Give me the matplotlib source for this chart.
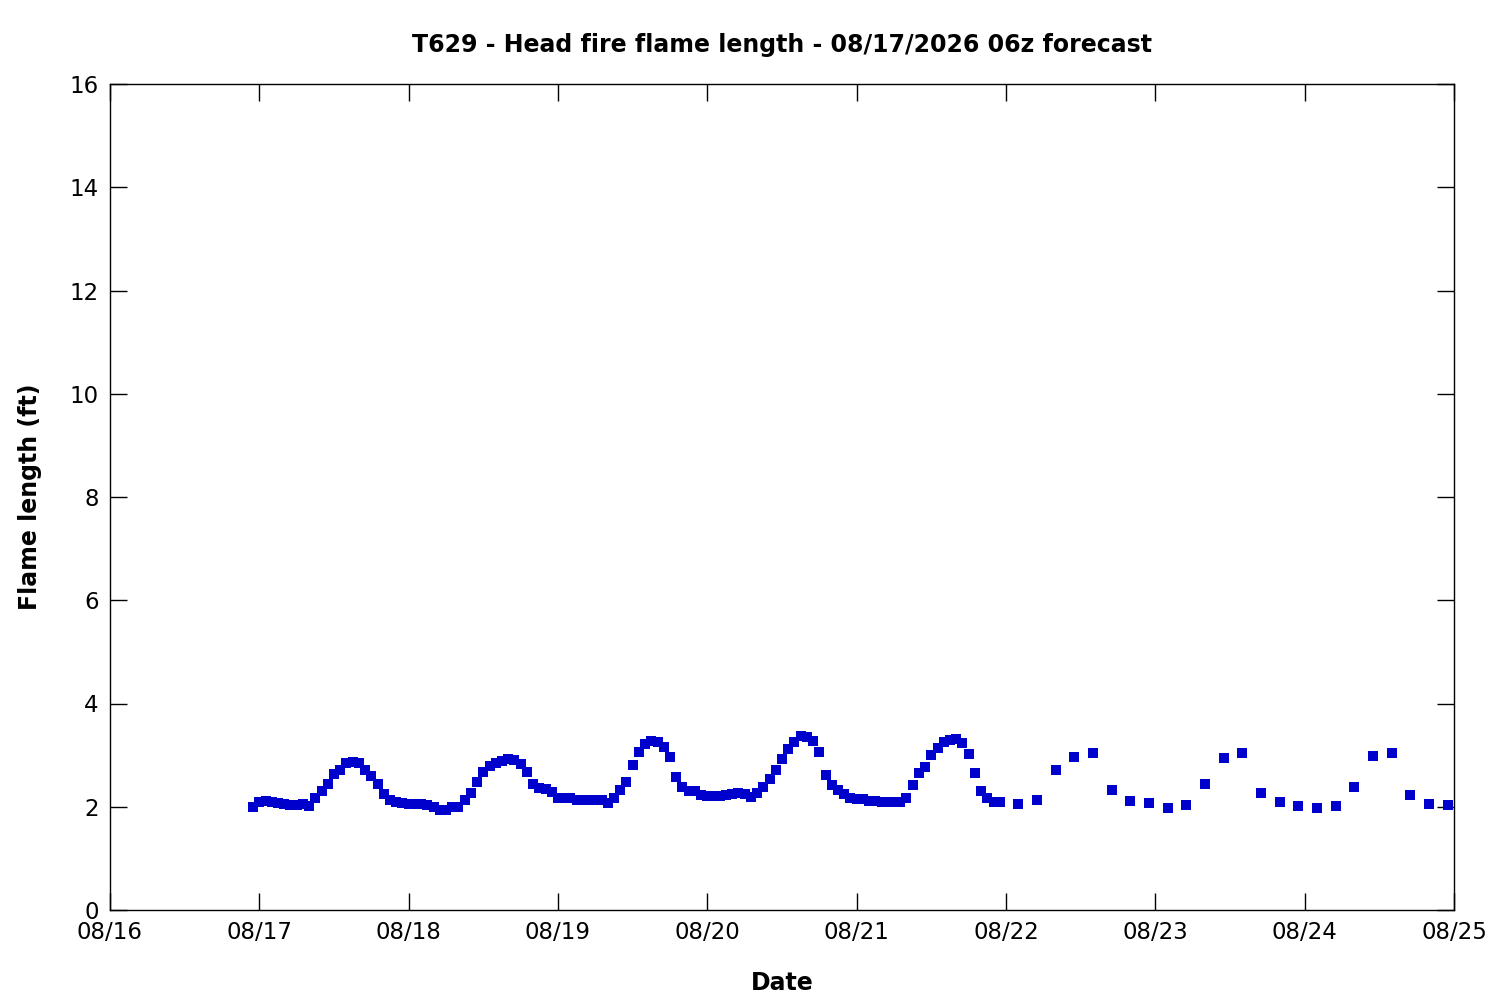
import numpy as np
import pandas as pd
import matplotlib
matplotlib.use("Agg")
import matplotlib.pyplot as plt
import matplotlib.dates as mdates

# hourly forecast, 08/16 23:00 through 08/21 23:00
hourly_start = "2026-08-16 23:00"
hourly_flame = [
    2.00, 2.10, 2.12, 2.10, 2.08, 2.05, 2.03, 2.03, 2.06, 2.02,
    2.16, 2.30, 2.44, 2.63, 2.72, 2.85, 2.87, 2.85, 2.72, 2.60,
    2.44, 2.25, 2.14, 2.09, 2.07, 2.05, 2.05, 2.05, 2.03, 1.99,
    1.94, 1.94, 2.00, 2.00, 2.13, 2.27, 2.48, 2.67, 2.79, 2.85,
    2.89, 2.93, 2.91, 2.83, 2.67, 2.44, 2.36, 2.34, 2.29, 2.16,
    2.16, 2.16, 2.14, 2.14, 2.14, 2.13, 2.13, 2.07, 2.16, 2.32,
    2.48, 2.80, 3.07, 3.22, 3.28, 3.25, 3.15, 2.96, 2.57, 2.38,
    2.30, 2.30, 2.23, 2.20, 2.20, 2.20, 2.22, 2.25, 2.27, 2.25,
    2.19, 2.26, 2.39, 2.53, 2.71, 2.92, 3.11, 3.25, 3.38, 3.35,
    3.27, 3.06, 2.61, 2.42, 2.32, 2.25, 2.17, 2.15, 2.15, 2.12,
    2.12, 2.10, 2.09, 2.09, 2.09, 2.16, 2.43, 2.65, 2.77, 3.00,
    3.13, 3.25, 3.29, 3.31, 3.23, 3.03, 2.65, 2.30, 2.16, 2.10,
    2.10,
]

# 3-hourly forecast, 08/22 02:00 through 08/24 23:00
three_hourly_start = "2026-08-22 02:00"
three_hourly_flame = [
    2.05, 2.14, 2.71, 2.96, 3.05, 2.32, 2.12, 2.07,
    1.97, 2.03, 2.45, 2.94, 3.04, 2.26, 2.09, 2.01,
    1.97, 2.01, 2.38, 2.98, 3.04, 2.22, 2.05, 2.03,
]

title = "T629 - Head fire flame length - 08/17/2026 06z forecast"

times = list(pd.date_range(hourly_start, periods=len(hourly_flame), freq="h")) + \
    list(pd.date_range(three_hourly_start, periods=len(three_hourly_flame), freq="3h"))
flame = hourly_flame + three_hourly_flame

fig = plt.figure(figsize=(15, 10), dpi=100)
ax = fig.add_axes([0.0733, 0.09, 0.896, 0.826])

ax.plot(times, flame, linestyle="none", marker="s", markersize=7,
        color="#0000cc", markeredgewidth=0)

ax.set_xlim(pd.Timestamp("2026-08-16"), pd.Timestamp("2026-08-25"))
ax.set_ylim(0, 16)
ax.set_yticks(np.arange(0, 17, 2))
ax.xaxis.set_major_locator(mdates.DayLocator())
ax.xaxis.set_major_formatter(mdates.DateFormatter("%m/%d"))

ax.tick_params(direction="in", length=12, width=1, top=True, right=True,
               labelsize=16.5, pad=8)
for s in ax.spines.values():
    s.set_linewidth(1.0)

ax.set_title(title, fontsize=17, fontweight="bold", pad=23)
ax.set_xlabel("Date", fontsize=17, fontweight="bold", labelpad=19)
ax.set_ylabel("Flame length (ft)", fontsize=17, fontweight="bold", labelpad=20)

fig.savefig("out.png", dpi=100)
